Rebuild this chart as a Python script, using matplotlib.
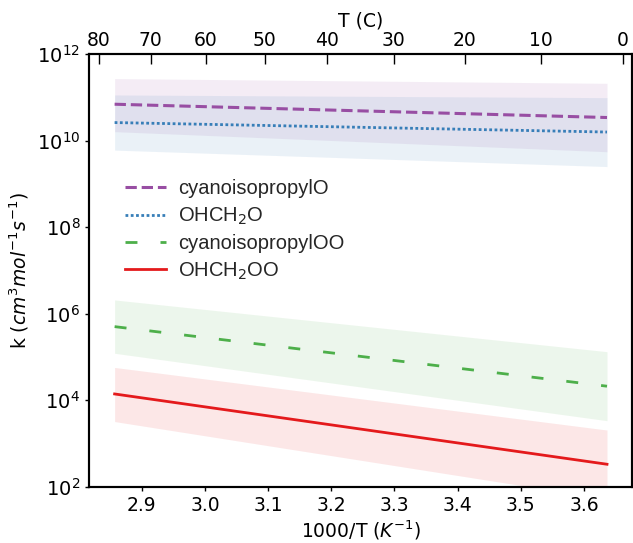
import matplotlib
matplotlib.use('Agg')
import matplotlib.pyplot as plt
import numpy as np
from matplotlib.ticker import FixedLocator, NullLocator

# data (two end points, Arrhenius lines are straight)
temps_K = [350, 275]
temps_C_ticks = [80, 70, 60, 50, 40, 30, 20, 10, 0]
y_ticks = [1e2, 1e4, 1e6, 1e8, 1e10, 1e12]
y_tick_labels = ['$10^{2}$', '$10^{4}$', '$10^{6}$', '$10^{8}$', '$10^{10}$', '$10^{12}$']

labels = ['cyanoisopropylO', 'OHCH$_2$O', 'cyanoisopropylOO', 'OHCH$_2$OO']

k_cyanoO = [6.9e10, 3.4e10]
k_ohch2o = [2.6e10, 1.57e10]
k_cyanoOO = [5.0e5, 2.1e4]
k_ohch2oo = [1.39e4, 3.3e2]

up_cyanoO = [2.7e11, 2.1e11]
lo_cyanoO = [1.6e10, 5.5e9]
up_ohch2o = [1.13e11, 9.8e10]
lo_ohch2o = [6.0e9, 2.5e9]
up_cyanoOO = [2.07e6, 1.32e5]
lo_cyanoOO = [1.21e5, 3.35e3]
up_ohch2oo = [5.7e4, 2.04e3]
lo_ohch2oo = [3.2e3, 52]

PURPLE = '#984ea3'
BLUE = '#377eb8'
GREEN = '#4daf4a'
RED = '#e41a1c'

x = 1000.0 / np.array(temps_K)

fig = plt.figure(figsize=(6.33, 5.43), dpi=100)
ax = fig.add_axes([0.141, 0.1037, 0.8575, 0.7969])

series = [
    (k_cyanoO, up_cyanoO, lo_cyanoO, PURPLE, dict(linestyle='--', lw=2.2)),
    (k_ohch2o, up_ohch2o, lo_ohch2o, BLUE, dict(linestyle=(0, (1.0, 0.9)), lw=2.0)),
    (k_cyanoOO, up_cyanoOO, lo_cyanoOO, GREEN, dict(linestyle=(0, (4.3, 8.3)), lw=2.0)),
    (k_ohch2oo, up_ohch2oo, lo_ohch2oo, RED, dict(linestyle='-', lw=2.0)),
]

for (k, up, lo, c, st), lab in zip(series, labels):
    ax.fill_between(x, lo, up, color=c, alpha=0.1, lw=0, zorder=1)
    ax.plot(x, k, color=c, label=lab, zorder=3, **st)

ax.set_yscale('log')
ax.set_ylim(1e2, 1e12)
ax.set_xlim(2.817, 3.676)
ax.yaxis.set_major_locator(FixedLocator(y_ticks))
ax.set_yticklabels(y_tick_labels)
ax.yaxis.set_minor_locator(NullLocator())
ax.set_xticks([2.9, 3.0, 3.1, 3.2, 3.3, 3.4, 3.5, 3.6])
ax.tick_params(axis='x', labelsize=13.5, width=1.0, length=3)
ax.tick_params(axis='y', labelsize=14, width=1.0, length=3)

for s in ax.spines.values():
    s.set_linewidth(1.5)

ax.set_xlabel('1000/T ($K^{-1}$)', fontsize=13.5, labelpad=3)
ax.set_ylabel('k ($cm^{3}mol^{-1}s^{-1}$)', fontsize=13.5)

# top axis in Celsius
ax2 = ax.twiny()
ax2.set_xlim(ax.get_xlim())
ax2.set_xticks([1000.0 / (c + 273.15) for c in temps_C_ticks])
ax2.set_xticklabels([str(c) for c in temps_C_ticks])
ax2.tick_params(direction='in', length=7, width=1.0, labelsize=13.5, pad=3)
ax2.set_xlabel('T (C)', fontsize=13.5, labelpad=3)
for s in ax2.spines.values():
    s.set_linewidth(1.5)

leg = ax.legend(loc='upper left', bbox_to_anchor=(0.033, 0.752), frameon=False,
                prop={'family': 'Liberation Sans', 'size': 14.5},
                labelspacing=0.36, handlelength=2.0, handletextpad=0.6)
for t in leg.get_texts():
    t.set_color('#262626')

fig.savefig('out.png', dpi=100, facecolor='white')
